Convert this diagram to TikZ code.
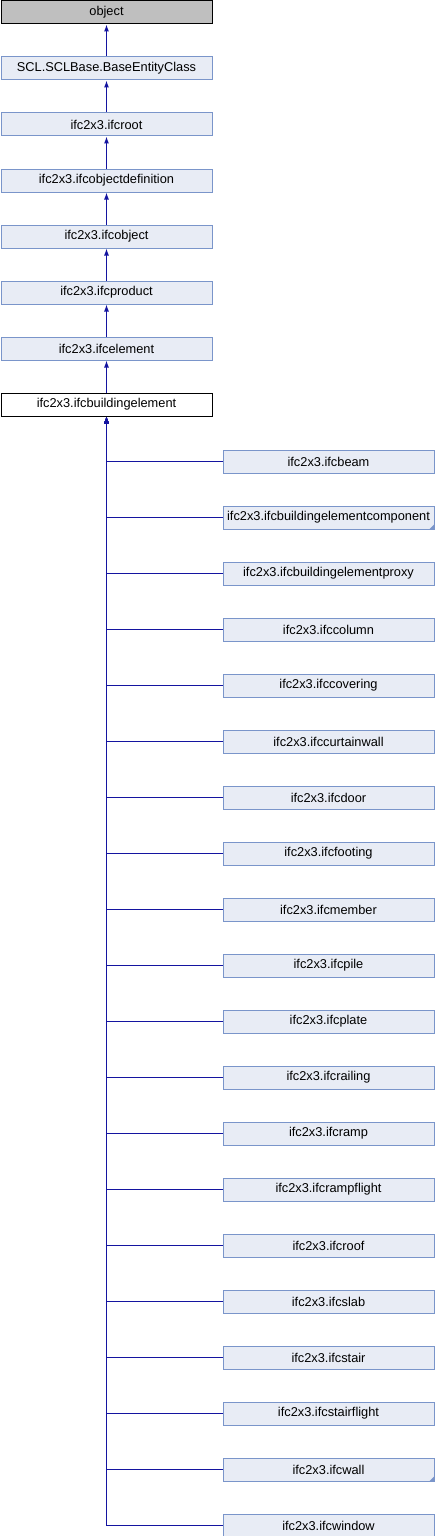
\documentclass[tikz,border=0pt]{standalone}
\usepackage{fontspec}
\setmainfont{Liberation Sans}
\usetikzlibrary{arrows.meta}
\definecolor{edgec}{RGB}{20,20,160}
\definecolor{boxfill}{RGB}{232,236,245}
\definecolor{boxdraw}{RGB}{122,149,202}
\definecolor{trifill}{RGB}{122,149,202}
\tikzset{
  cls/.style={draw=boxdraw, fill=boxfill, line width=1pt, rectangle, minimum width=211pt, minimum height=23pt, inner sep=0pt, anchor=north west, font=\fontsize{12.8}{14}\selectfont},
  rootcls/.style={cls, draw=black, fill=black!25},
  curcls/.style={cls, draw=black, fill=white},
  edge/.style={draw=edgec, line width=1.1pt, {Latex[length=7pt,width=5pt]}-},
  trunc/.style={fill=trifill}
}
\begin{document}
\begin{tikzpicture}[x=1pt,y=-1pt]
\useasboundingbox (0,0) rectangle (434,1536);
\node[rootcls] (n0) at (0.5,0.5) {object};
\node[cls] (n1) at (0.5,56.5) {SCL.SCLBase.BaseEntityClass};
\node[cls] (n2) at (0.5,112.5) {ifc2x3.ifcroot};
\node[cls] (n3) at (0.5,168.5) {ifc2x3.ifcobjectdefinition};
\node[cls] (n4) at (0.5,224.5) {ifc2x3.ifcobject};
\node[cls] (n5) at (0.5,280.5) {ifc2x3.ifcproduct};
\node[cls] (n6) at (0.5,336.5) {ifc2x3.ifcelement};
\node[curcls] (be) at (0.5,392.5) {ifc2x3.ifcbuildingelement};
\draw[edge] (n0) -- (n1);
\draw[edge] (n1) -- (n2);
\draw[edge] (n2) -- (n3);
\draw[edge] (n3) -- (n4);
\draw[edge] (n4) -- (n5);
\draw[edge] (n5) -- (n6);
\draw[edge] (n6) -- (be);
\foreach \name [count=\j from 0] in {ifcbeam,ifcbuildingelementcomponent,ifcbuildingelementproxy,ifccolumn,ifccovering,ifccurtainwall,ifcdoor,ifcfooting,ifcmember,ifcpile,ifcplate,ifcrailing,ifcramp,ifcrampflight,ifcroof,ifcslab,ifcstair,ifcstairflight,ifcwall,ifcwindow}{
  \node[cls] (c\j) at (222.5,{449.5+56*\j}) {ifc2x3.\name};
  \draw[edge] (be.south) |- (c\j.west);
}
\fill[trunc] ([shift={(-5pt,0.5pt)}]c1.south east) -- ([shift={(0,0.5pt)}]c1.south east) -- ([shift={(0,5.5pt)}]c1.south east) -- cycle;
\fill[trunc] ([shift={(-5pt,0.5pt)}]c18.south east) -- ([shift={(0,0.5pt)}]c18.south east) -- ([shift={(0,5.5pt)}]c18.south east) -- cycle;
\end{tikzpicture}
\end{document}
